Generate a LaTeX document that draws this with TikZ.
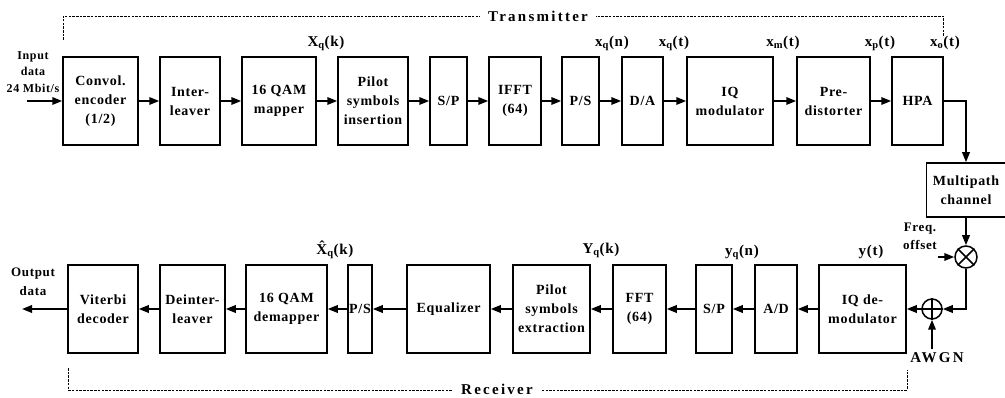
\documentclass[tikz,border=0pt]{standalone}
\usepackage{fontspec}
\setmainfont{Liberation Serif}[LetterSpace=5]
\usetikzlibrary{arrows.meta}

\tikzset{
  blk/.style={draw, line width=1.5pt, align=center, inner sep=0pt,
    minimum height=88pt, font=\bfseries\fontsize{14}{19}\selectfont},
  arr/.style={line width=1.8pt, -{Triangle[length=10pt,width=7.5pt]}},
  sig/.style={font=\bfseries\fontsize{15}{18}\selectfont},
  small/.style={align=center, font=\bfseries\fontsize{12}{16.5}\selectfont},
  frame/.style={line width=0.8pt, dash pattern=on 2.5pt off 1.2pt},
  framelbl/.style={fill=white, inner xsep=8pt, inner ysep=1pt,
    font=\bfseries\fontsize{15}{18}\selectfont\addfontfeature{LetterSpace=15}},
  ring/.style={draw, circle, line width=1.5pt, minimum size=22pt, inner sep=0pt},
}

\begin{document}
\begin{tikzpicture}[x=1pt,y=-1pt]
\useasboundingbox (0,0) rectangle (1005,398);

% Transmitter
\draw[frame] (63,40) |- (943,16) -- (943,37);
\node[framelbl] (tx) at (538,16) {Transmitter};

\node[small] (inlbl) at (33,72) {Input\\data\\24 Mbit/s};
\coordinate (in) at (27,101);

\node[blk, minimum width=75pt] (enc) at (100.5,101) {Convol.\\encoder\\(1/2)};
\node[blk, minimum width=60pt] (inter) at (190,101) {Inter-\\leaver};
\node[blk, minimum width=74pt] (map) at (279,101) {16 QAM\\mapper};
\node[blk, minimum width=70pt] (pilot) at (373,101) {Pilot\\symbols\\insertion};
\node[blk, minimum width=37pt] (sp) at (448.5,101) {S/P};
\node[blk, minimum width=52pt] (ifft) at (515,101) {IFFT\\(64)};
\node[blk, minimum width=37pt] (ps) at (580.5,101) {P/S};
\node[blk, minimum width=41pt] (da) at (642.5,101) {D/A};
\node[blk, minimum width=86pt] (iqmod) at (730,101) {IQ\\modulator};
\node[blk, minimum width=73pt] (pred) at (833.5,101) {Pre-\\distorter};
\node[blk, minimum width=51pt] (hpa) at (917.5,101) {HPA};

\draw[arr] (in) -- (enc.west);
\foreach \a/\b in {enc/inter, inter/map, map/pilot, pilot/sp, sp/ifft,
  ifft/ps, ps/da, da/iqmod, iqmod/pred, pred/hpa}
  \draw[arr] (\a.east) -- (\b.west);

\node[sig] (xk) at (326,43) {X\textsubscript{q}(k)};
\node[sig] (xn) at (612,43) {x\textsubscript{q}(n)};
\node[sig] (xt) at (674,43) {x\textsubscript{q}(t)};
\node[sig] (xm) at (783,43) {x\textsubscript{m}(t)};
\node[sig] (xp) at (880,43) {x\textsubscript{p}(t)};
\node[sig] (xo) at (945,43) {x\textsubscript{o}(t)};

% Channel
\node[blk, minimum width=79pt, minimum height=54pt] (ch) at (966,190) {Multipath\\channel};
\draw[arr] (hpa.east) -| (ch.north);

\node[ring] (mix) at (966,257) {};
\draw[line width=1.5pt] (mix.north west) -- (mix.south east)
  (mix.north east) -- (mix.south west);
\draw[arr] (ch.south) -- (mix.north);
\node[align=center, font=\bfseries\fontsize{13}{18}\selectfont] (fo) at (920,236) {Freq.\\offset};
\coordinate (foin) at (938,257);
\draw[arr] (foin) -- (mix.west);

\node[ring, minimum size=20pt] (add) at (932,309) {};
\draw[line width=1.5pt] (add.north) -- (add.south) (add.west) -- (add.east);
\draw[arr] (mix.south) |- (add.east);
\node[sig, font=\bfseries\fontsize{15}{18}\selectfont\addfontfeature{LetterSpace=15}] (awgn) at (937,358) {AWGN};
\draw[arr] (awgn.north -| add) -- (add.south);

% Receiver
\draw[frame] (68,368) |- (907,390) -- (907,370);
\node[framelbl] (rx) at (497,389) {Receiver};

\node[blk, minimum width=87pt] (iqdem) at (862.5,309) {IQ de-\\modulator};
\node[blk, minimum width=42pt] (ad) at (776,309) {A/D};
\node[blk, minimum width=36pt] (sp2) at (714,309) {S/P};
\node[blk, minimum width=53pt] (fft) at (639.5,309) {FFT\\(64)};
\node[blk, minimum width=77pt] (pext) at (551.5,309) {Pilot\\symbols\\extraction};
\node[blk, minimum width=83pt] (eq) at (448.5,309) {Equalizer};
\node[blk, minimum width=24pt] (ps2) at (360,309) {P/S};
\node[blk, minimum width=81pt] (demap) at (286.5,309) {16 QAM\\demapper};
\node[blk, minimum width=65pt] (deint) at (192.5,309) {Deinter-\\leaver};
\node[blk, minimum width=70pt] (vit) at (103,309) {Viterbi\\decoder};

\draw[arr] (add.west) -- (iqdem.east);
\foreach \a/\b in {iqdem/ad, ad/sp2, sp2/fft, fft/pext, pext/eq, eq/ps2,
  ps2/demap, demap/deint, deint/vit}
  \draw[arr] (\a.west) -- (\b.east);

\node[align=center, font=\bfseries\fontsize{13}{19}\selectfont] (outlbl) at (33,282) {Output\\data};
\coordinate (out) at (22,309);
\draw[arr] (vit.west) -- (out);

\node[sig] (xhat) at (335,250) {\^{X}\textsubscript{q}(k)};
\node[sig] (yk) at (601,250) {Y\textsubscript{q}(k)};
\node[sig] (yn) at (742,252) {y\textsubscript{q}(n)};
\node[sig] (yt) at (871,252) {y(t)};

\end{tikzpicture}
\end{document}
